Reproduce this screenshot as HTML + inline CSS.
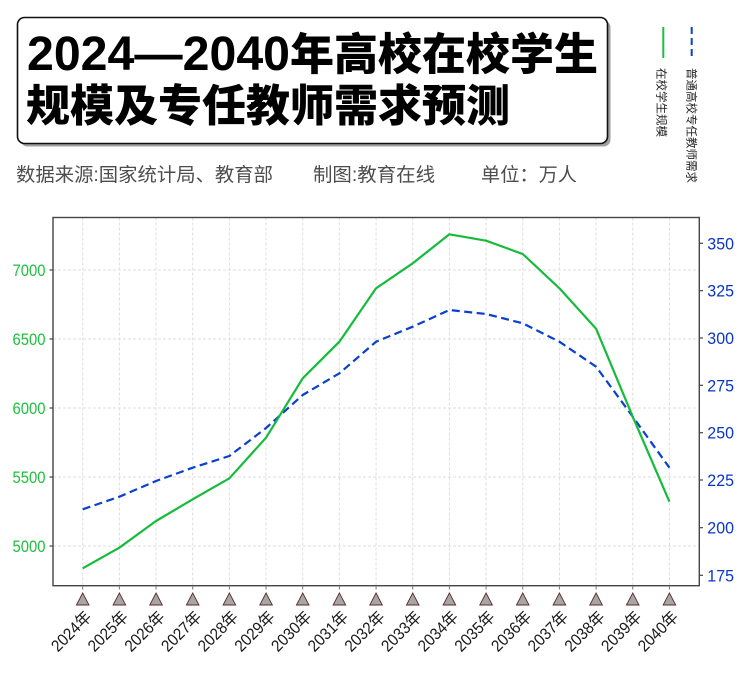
<!DOCTYPE html>
<html><head><meta charset="utf-8"><style>
html,body{margin:0;padding:0;background:#fff;}
svg{display:block;}
</style></head><body>
<svg width="750" height="683" viewBox="0 0 750 683" xmlns="http://www.w3.org/2000/svg">
<rect x="0" y="0" width="750" height="683" fill="#fff"/>
<!-- title box -->
<rect x="20.5" y="20.5" width="590" height="126" rx="7" fill="#a0a0a0"/>
<rect x="17.5" y="17.5" width="590" height="126" rx="7" fill="#fff" stroke="#111" stroke-width="1.6"/>
<text x="27" y="70" font-family="Liberation Sans, sans-serif" font-weight="bold" font-size="48" textLength="263" lengthAdjust="spacingAndGlyphs" fill="#000">2024—2040</text>
<text x="290" y="69.5" font-family="Noto Sans CJK SC, sans-serif" font-weight="900" font-size="44" textLength="308" lengthAdjust="spacingAndGlyphs" fill="#000">年高校在校学生</text>
<text x="26" y="121" font-family="Noto Sans CJK SC, sans-serif" font-weight="900" font-size="44" textLength="484" lengthAdjust="spacingAndGlyphs" fill="#000">规模及专任教师需求预测</text>
<!-- subtitle -->
<g font-family="Liberation Sans, Noto Sans CJK SC, sans-serif" font-size="19" fill="#4d4d4d">
<text x="16" y="181" textLength="257" lengthAdjust="spacingAndGlyphs">数据来源:国家统计局、教育部</text>
<text x="313" y="181" textLength="122" lengthAdjust="spacingAndGlyphs">制图:教育在线</text>
<text x="481" y="181" font-family="Noto Sans CJK SC, sans-serif" textLength="96" lengthAdjust="spacingAndGlyphs">单位：万人</text>
</g>
<!-- legend -->
<line x1="663.3" y1="27" x2="663.3" y2="58" stroke="#1cbf3e" stroke-width="2"/>
<line x1="691.7" y1="27" x2="691.7" y2="58" stroke="#0a3fd6" stroke-width="2" stroke-dasharray="7,4"/>
<g font-family="Noto Sans CJK SC, sans-serif" font-size="11.5" fill="#222">
<text transform="translate(657.6,68) rotate(90)" textLength="69" lengthAdjust="spacingAndGlyphs">在校学生规模</text>
<text transform="translate(687.6,68) rotate(90)" textLength="115" lengthAdjust="spacingAndGlyphs">普通高校专任教师需求</text>
</g>
<!-- grid -->
<g stroke="#dedede" stroke-width="1" stroke-dasharray="3,2">
<line x1="53" y1="270" x2="699.3" y2="270"/>
<line x1="53" y1="339" x2="699.3" y2="339"/>
<line x1="53" y1="408" x2="699.3" y2="408"/>
<line x1="53" y1="477" x2="699.3" y2="477"/>
<line x1="53" y1="546" x2="699.3" y2="546"/>
<line x1="82.7" y1="217.5" x2="82.7" y2="585.7"/>
<line x1="119.37" y1="217.5" x2="119.37" y2="585.7"/>
<line x1="156.04" y1="217.5" x2="156.04" y2="585.7"/>
<line x1="192.71" y1="217.5" x2="192.71" y2="585.7"/>
<line x1="229.38" y1="217.5" x2="229.38" y2="585.7"/>
<line x1="266.05" y1="217.5" x2="266.05" y2="585.7"/>
<line x1="302.72" y1="217.5" x2="302.72" y2="585.7"/>
<line x1="339.39" y1="217.5" x2="339.39" y2="585.7"/>
<line x1="376.06" y1="217.5" x2="376.06" y2="585.7"/>
<line x1="412.73" y1="217.5" x2="412.73" y2="585.7"/>
<line x1="449.4" y1="217.5" x2="449.4" y2="585.7"/>
<line x1="486.07" y1="217.5" x2="486.07" y2="585.7"/>
<line x1="522.74" y1="217.5" x2="522.74" y2="585.7"/>
<line x1="559.41" y1="217.5" x2="559.41" y2="585.7"/>
<line x1="596.08" y1="217.5" x2="596.08" y2="585.7"/>
<line x1="632.75" y1="217.5" x2="632.75" y2="585.7"/>
<line x1="669.42" y1="217.5" x2="669.42" y2="585.7"/>
</g>
<!-- series -->
<polyline fill="none" stroke="#0a3fd0" stroke-width="2.2" stroke-dasharray="8,4.5" stroke-linejoin="round"
 points="82.7,509.3 119.37,496.7 156.04,481 192.71,467.7 229.38,456 266.05,428 302.72,395 339.39,373.3 376.06,341.7 412.73,326.7 449.4,310 486.07,314 522.74,323.3 559.41,341.7 596.08,366.7 632.75,416.7 669.42,467.7"/>
<polyline fill="none" stroke="#17bb3c" stroke-width="2.2" stroke-linejoin="round"
 points="82.7,568.3 119.37,547.7 156.04,521 192.71,499.3 229.38,478.3 266.05,437.7 302.72,378.3 339.39,341.7 376.06,288.3 412.73,263.3 449.4,234.3 486.07,240.7 522.74,254 559.41,288.3 596.08,328.7 632.75,416.7 669.42,501.7"/>
<!-- spines -->
<rect x="53" y="217.5" width="646.3" height="368.2" fill="none" stroke="#454545" stroke-width="1.4"/>
<!-- ticks -->
<g stroke="#454545" stroke-width="1.2">
<line x1="49.5" y1="270" x2="53" y2="270"/>
<line x1="49.5" y1="339" x2="53" y2="339"/>
<line x1="49.5" y1="408" x2="53" y2="408"/>
<line x1="49.5" y1="477" x2="53" y2="477"/>
<line x1="49.5" y1="546" x2="53" y2="546"/>
<line x1="699.3" y1="243.3" x2="703" y2="243.3"/>
<line x1="699.3" y1="290.7" x2="703" y2="290.7"/>
<line x1="699.3" y1="338" x2="703" y2="338"/>
<line x1="699.3" y1="385.3" x2="703" y2="385.3"/>
<line x1="699.3" y1="432.7" x2="703" y2="432.7"/>
<line x1="699.3" y1="480" x2="703" y2="480"/>
<line x1="699.3" y1="527.7" x2="703" y2="527.7"/>
<line x1="699.3" y1="575.3" x2="703" y2="575.3"/>
</g>
<g font-family="Liberation Sans, sans-serif" font-size="17" fill="#1cc03e" text-anchor="end">
<text x="45.5" y="276" textLength="33" lengthAdjust="spacingAndGlyphs">7000</text>
<text x="45.5" y="345" textLength="33" lengthAdjust="spacingAndGlyphs">6500</text>
<text x="45.5" y="414" textLength="33" lengthAdjust="spacingAndGlyphs">6000</text>
<text x="45.5" y="483" textLength="33" lengthAdjust="spacingAndGlyphs">5500</text>
<text x="45.5" y="552" textLength="33" lengthAdjust="spacingAndGlyphs">5000</text>
</g>
<g font-family="Liberation Sans, sans-serif" font-size="17" fill="#0a35c8">
<text x="707.3" y="249.3" textLength="26.7" lengthAdjust="spacingAndGlyphs">350</text>
<text x="707.3" y="296.7" textLength="26.7" lengthAdjust="spacingAndGlyphs">325</text>
<text x="707.3" y="344" textLength="26.7" lengthAdjust="spacingAndGlyphs">300</text>
<text x="707.3" y="391.3" textLength="26.7" lengthAdjust="spacingAndGlyphs">275</text>
<text x="707.3" y="438.7" textLength="26.7" lengthAdjust="spacingAndGlyphs">250</text>
<text x="707.3" y="486" textLength="26.7" lengthAdjust="spacingAndGlyphs">225</text>
<text x="707.3" y="533.7" textLength="26.7" lengthAdjust="spacingAndGlyphs">200</text>
<text x="707.3" y="581.3" textLength="26.7" lengthAdjust="spacingAndGlyphs">175</text>
</g>
<!-- x ticks, markers, labels -->
<g stroke="#777" stroke-width="1">
<line x1="82.7" y1="585.7" x2="82.7" y2="589.5"/><line x1="119.37" y1="585.7" x2="119.37" y2="589.5"/><line x1="156.04" y1="585.7" x2="156.04" y2="589.5"/><line x1="192.71" y1="585.7" x2="192.71" y2="589.5"/><line x1="229.38" y1="585.7" x2="229.38" y2="589.5"/><line x1="266.05" y1="585.7" x2="266.05" y2="589.5"/><line x1="302.72" y1="585.7" x2="302.72" y2="589.5"/><line x1="339.39" y1="585.7" x2="339.39" y2="589.5"/><line x1="376.06" y1="585.7" x2="376.06" y2="589.5"/><line x1="412.73" y1="585.7" x2="412.73" y2="589.5"/><line x1="449.4" y1="585.7" x2="449.4" y2="589.5"/><line x1="486.07" y1="585.7" x2="486.07" y2="589.5"/><line x1="522.74" y1="585.7" x2="522.74" y2="589.5"/><line x1="559.41" y1="585.7" x2="559.41" y2="589.5"/><line x1="596.08" y1="585.7" x2="596.08" y2="589.5"/><line x1="632.75" y1="585.7" x2="632.75" y2="589.5"/><line x1="669.42" y1="585.7" x2="669.42" y2="589.5"/>
</g>
<g fill="#a6a6a6" stroke="#5c2a2a" stroke-width="0.9">
<polygon points="82.7,593 76.4,605 89,605"/><polygon points="119.37,593 113.07,605 125.67,605"/><polygon points="156.04,593 149.74,605 162.34,605"/><polygon points="192.71,593 186.41,605 199.01,605"/><polygon points="229.38,593 223.08,605 235.68,605"/><polygon points="266.05,593 259.75,605 272.35,605"/><polygon points="302.72,593 296.42,605 309.02,605"/><polygon points="339.39,593 333.09,605 345.69,605"/><polygon points="376.06,593 369.76,605 382.36,605"/><polygon points="412.73,593 406.43,605 419.03,605"/><polygon points="449.4,593 443.1,605 455.7,605"/><polygon points="486.07,593 479.77,605 492.37,605"/><polygon points="522.74,593 516.44,605 529.04,605"/><polygon points="559.41,593 553.11,605 565.71,605"/><polygon points="596.08,593 589.78,605 602.38,605"/><polygon points="632.75,593 626.45,605 639.05,605"/><polygon points="669.42,593 663.12,605 675.72,605"/>
</g>
<g font-family="Liberation Sans, Noto Sans CJK SC, sans-serif" font-size="16.5" fill="#1a1a1a" text-anchor="end">
<text transform="translate(92.5,618) rotate(-45)" textLength="49" lengthAdjust="spacingAndGlyphs">2024年</text>
<text transform="translate(129.17,618) rotate(-45)" textLength="49" lengthAdjust="spacingAndGlyphs">2025年</text>
<text transform="translate(165.84,618) rotate(-45)" textLength="49" lengthAdjust="spacingAndGlyphs">2026年</text>
<text transform="translate(202.51,618) rotate(-45)" textLength="49" lengthAdjust="spacingAndGlyphs">2027年</text>
<text transform="translate(239.18,618) rotate(-45)" textLength="49" lengthAdjust="spacingAndGlyphs">2028年</text>
<text transform="translate(275.85,618) rotate(-45)" textLength="49" lengthAdjust="spacingAndGlyphs">2029年</text>
<text transform="translate(312.52,618) rotate(-45)" textLength="49" lengthAdjust="spacingAndGlyphs">2030年</text>
<text transform="translate(349.19,618) rotate(-45)" textLength="49" lengthAdjust="spacingAndGlyphs">2031年</text>
<text transform="translate(385.86,618) rotate(-45)" textLength="49" lengthAdjust="spacingAndGlyphs">2032年</text>
<text transform="translate(422.53,618) rotate(-45)" textLength="49" lengthAdjust="spacingAndGlyphs">2033年</text>
<text transform="translate(459.2,618) rotate(-45)" textLength="49" lengthAdjust="spacingAndGlyphs">2034年</text>
<text transform="translate(495.87,618) rotate(-45)" textLength="49" lengthAdjust="spacingAndGlyphs">2035年</text>
<text transform="translate(532.54,618) rotate(-45)" textLength="49" lengthAdjust="spacingAndGlyphs">2036年</text>
<text transform="translate(569.21,618) rotate(-45)" textLength="49" lengthAdjust="spacingAndGlyphs">2037年</text>
<text transform="translate(605.88,618) rotate(-45)" textLength="49" lengthAdjust="spacingAndGlyphs">2038年</text>
<text transform="translate(642.55,618) rotate(-45)" textLength="49" lengthAdjust="spacingAndGlyphs">2039年</text>
<text transform="translate(679.22,618) rotate(-45)" textLength="49" lengthAdjust="spacingAndGlyphs">2040年</text>
</g>
</svg>
</body></html>
